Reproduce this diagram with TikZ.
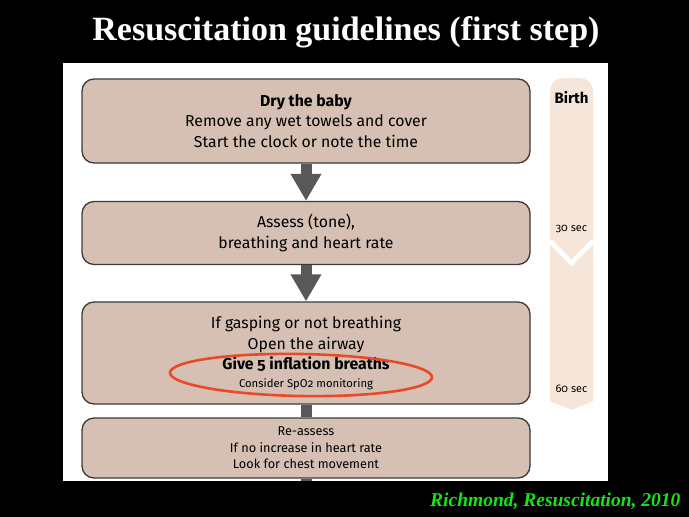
\documentclass[tikz,border=0pt]{standalone}
\usepackage{fontspec}
\setmainfont{Liberation Serif}
\newfontfamily\chartfont[Numbers=OldStyle]{Fira Sans}
\usetikzlibrary{arrows.meta}

\definecolor{boxtan}{RGB}{214,192,180}
\definecolor{boxline}{RGB}{62,58,56}
\definecolor{timeband}{RGB}{246,230,218}
\definecolor{flowgray}{RGB}{88,88,88}
\definecolor{ringred}{RGB}{232,74,40}
\definecolor{citegreen}{RGB}{20,230,20}

\tikzset{
  algbox/.style={draw=boxline, line width=1.3pt, fill=boxtan, rounded corners=12pt,
    minimum width=448pt, align=center, inner sep=0pt,
    font=\chartfont\fontsize{15.8}{20.5}\selectfont},
  flowstem/.style={draw=flowgray, line width=11pt},
  flow/.style={flowstem, -{Triangle[width=29pt,length=27pt]}},
  timetext/.style={font=\chartfont\fontsize{11}{13}\selectfont, inner sep=0pt}
}

\begin{document}
\begin{tikzpicture}[x=1pt,y=-1pt]
    \useasboundingbox (0,0) rectangle (689,517);
    \fill[black] (0,0) rectangle (689,517);
    \fill[white] (63,63) rectangle (608,481);

    % time band on the right
    \fill[timeband] (550,401) {[rounded corners=13pt] -- (550,78) -- (593,78)}
        -- (593,401) -- (571.5,410) -- cycle;
    \draw[white, line width=4.5pt] (550,241) -- (571.5,263) -- (593,241);
    \node[timetext, font=\chartfont\bfseries\fontsize{15}{18}\selectfont] (birth) at (571.5,98) {Birth};
    \node[timetext] (sec30) at (571.5,229) {30 sec};
    \node[timetext] (sec60) at (571.5,389) {60 sec};

    % the steps
    \node[algbox, minimum height=84pt] (dry) at (306,121)
        {{\bfseries Dry the baby}\\Remove any wet towels and cover\\Start the clock or note the time};
    \node[algbox, minimum height=63pt] (assess) at (306,233)
        {Assess (tone),\\breathing and heart rate};
    \node[algbox, minimum height=102pt] (breaths) at (306,353)
        {If gasping or not breathing\\Open the airway\\{\bfseries Give 5 inflation breaths}\\[-3pt]
         {\fontsize{11.3}{14}\selectfont Consider SpO2 monitoring}};
    \node[algbox, minimum height=60pt, font=\chartfont\fontsize{12.7}{16.5}\selectfont] (reassess) at (306,448)
        {Re-assess\\If no increase in heart rate\\Look for chest movement};
    \coordinate (cutoff) at (306,481);

    \draw[flow] (dry) -- (assess);
    \draw[flow] (assess) -- (breaths);
    \draw[flowstem] (breaths) -- (reassess);
    \draw[flowstem] (reassess) -- (cutoff);

    % highlight
    \draw[ringred, line width=2.6pt, rotate around={-1:(301,375)}] (301,375) ellipse [x radius=131, y radius=21];

    \node[text=white, font=\bfseries\fontsize{34}{40}\selectfont, anchor=base] (title) at (346,40.5)
        {Resuscitation guidelines (first step)};
    \node[text=citegreen, font=\bfseries\itshape\fontsize{19.5}{22}\selectfont, anchor=base east] (cite) at (684,506)
        {Richmond, Resuscitation, 2010};
\end{tikzpicture}
\end{document}
